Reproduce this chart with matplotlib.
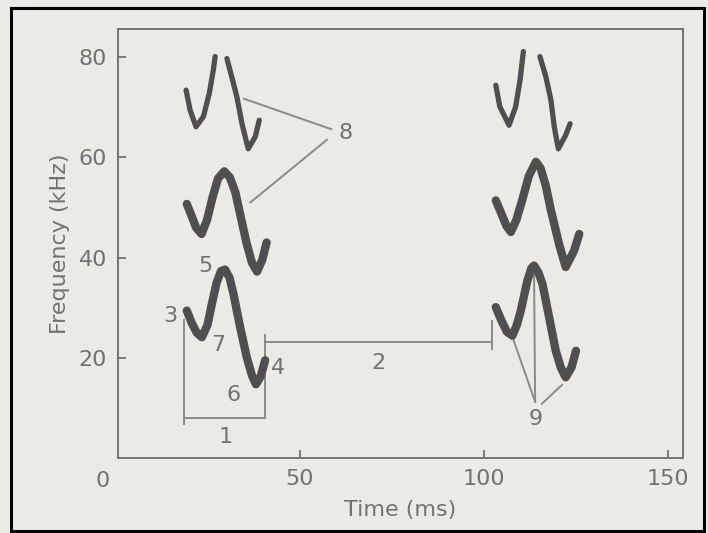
import matplotlib
matplotlib.use("Agg")
import matplotlib.pyplot as plt
from matplotlib.patches import Rectangle

# ── Data (time in ms, frequency in kHz) ──
# call 1
c1_h1_t = [19.3, 20.6, 22.0, 23.4, 24.9, 26.1, 27.4, 28.6, 29.7, 30.9, 32.0, 33.8, 35.6, 37.0, 38.1, 39.4, 40.6]
c1_h1_f = [29.4, 27.0, 25.0, 24.1, 26.5, 30.7, 35.0, 37.3, 37.6, 36.0, 32.7, 26.1, 20.1, 16.5, 14.7, 16.3, 19.5]
c1_h2_t = [19.3, 20.5, 21.8, 23.3, 24.8, 26.3, 27.8, 29.5, 31.0, 32.5, 34.0, 35.5, 37.0, 38.4, 39.8, 41.0]
c1_h2_f = [50.7, 48.5, 46.0, 44.7, 47.5, 52.0, 55.8, 57.2, 56.0, 53.0, 48.0, 43.0, 39.0, 37.2, 39.5, 43.0]
c1_h3a_t = [19.1, 20.2, 21.8, 23.8, 25.4, 26.5, 27.0]
c1_h3a_f = [73.4, 69.4, 66.1, 68.1, 72.7, 77.4, 80.1]
c1_h3b_t = [30.2, 31.5, 32.9, 34.3, 36.0, 37.9, 39.0]
c1_h3b_f = [79.7, 76.1, 72.1, 66.7, 61.7, 64.1, 67.4]

# call 2
c2_h1_t = [103.3, 104.8, 106.3, 107.8, 109.0, 110.1, 111.9, 113.0, 113.7, 114.9, 116.0, 117.8, 119.6, 121.0, 122.3, 123.9, 125.1]
c2_h1_f = [30.1, 27.5, 25.2, 24.4, 26.5, 29.4, 35.4, 37.9, 38.4, 37.0, 34.7, 28.1, 21.4, 18.0, 16.1, 18.1, 21.4]
c2_h2_t = [103.3, 104.8, 106.2, 107.4, 108.9, 110.5, 112.3, 114.2, 115.5, 116.9, 118.3, 120.5, 122.3, 124.6, 126.0]
c2_h2_f = [51.4, 48.8, 46.3, 45.1, 47.5, 51.5, 56.3, 59.1, 57.8, 54.3, 49.4, 42.7, 38.1, 41.4, 44.7]
c2_h3a_t = [103.3, 104.4, 106.9, 108.7, 109.9, 110.8]
c2_h3a_f = [74.4, 70.1, 66.4, 70.1, 75.4, 81.1]
c2_h3b_t = [115.3, 116.9, 118.3, 119.2, 120.3, 122.3, 123.5]
c2_h3b_f = [80.1, 76.1, 71.4, 66.1, 61.7, 64.4, 66.7]

# numbered labels: (text, t, f)
labels = ["1", "2", "3", "4", "5", "6", "7", "8", "9"]
label_t = [29.8, 71.5, 14.8, 44.2, 24.3, 32.0, 27.8, 62.4, 114.2]
label_f = [4.2, 19.0, 28.3, 18.0, 38.3, 12.6, 22.5, 64.8, 7.8]

x_ticks = [50, 100, 150]
y_ticks = [20, 40, 60, 80]

# ── Style ─────────────────────────────────────────────────────────
BG     = "#ebeae6"
INK    = "#4f4f4f"
GREY   = "#727272"
THIN   = "#8a8a8a"

fig = plt.figure(figsize=(7.08, 5.33), dpi=100, facecolor=BG)
ax = fig.add_axes([0.1667, 0.1407, 0.7980, 0.8049])
ax.set_facecolor(BG)
ax.set_xlim(0.6, 154.2)
ax.set_ylim(0.0, 85.6)

for s in ax.spines.values():
    s.set_color(GREY)
    s.set_linewidth(1.4)

ax.set_xticks(x_ticks)
ax.set_yticks(y_ticks)
ax.tick_params(direction="in", length=6, width=1.3, color=GREY,
               labelcolor=GREY, labelsize=16, pad=8)
ax.text(-3.5, -2.5, "0", color=GREY, fontsize=16, ha="center", va="top",
        clip_on=False)
ax.set_xlabel("Time (ms)", color=GREY, fontsize=16, labelpad=8)
ax.set_ylabel("Frequency (kHz)", color=GREY, fontsize=16, labelpad=6)

# harmonics
thick = dict(color=INK, lw=6.0, solid_capstyle="round", solid_joinstyle="round", zorder=3)
thin = dict(color=INK, lw=3.8, solid_capstyle="round", solid_joinstyle="round", zorder=3)
for t, f in [(c1_h1_t, c1_h1_f), (c1_h2_t, c1_h2_f), (c2_h1_t, c2_h1_f), (c2_h2_t, c2_h2_f)]:
    ax.plot(t, f, **thick)
for t, f in [(c1_h3a_t, c1_h3a_f), (c1_h3b_t, c1_h3b_f), (c2_h3a_t, c2_h3a_f), (c2_h3b_t, c2_h3b_f)]:
    ax.plot(t, f, **thin)

# brackets for call duration (1) and interval (2)
ln = dict(color=THIN, lw=1.4, zorder=2)
ax.plot([18.6, 18.6], [27.5, 8.0], **ln)
ax.plot([18.6, 40.6], [8.0, 8.0], **ln)
ax.plot([40.6, 40.6], [8.0, 24.6], **ln)
ax.plot([18.6, 18.6], [6.8, 9.2], **ln)
ax.plot([40.6, 102.2], [23.2, 23.2], **ln)
ax.plot([102.2, 102.2], [21.8, 27.4], **ln)

# leader lines to 8 and 9
ax.plot([34.8, 58.6], [71.7, 65.6], **ln)
ax.plot([36.6, 57.4], [51.0, 63.5], **ln)
ax.plot([108.0, 114.0], [23.8, 11.2], **ln)
ax.plot([113.7, 114.0], [37.0, 11.2], **ln)
ax.plot([121.3, 115.8], [14.6, 10.8], **ln)

for s, t, f in zip(labels, label_t, label_f):
    ax.text(t, f, s, color=GREY, fontsize=16, ha="center", va="center", zorder=4)

# scan border
fig.patches.append(Rectangle((0.0155, 0.004), 0.979, 0.981, transform=fig.transFigure,
                             fill=False, edgecolor="black", lw=2.2))

fig.savefig("out.png", dpi=100, facecolor=BG)
